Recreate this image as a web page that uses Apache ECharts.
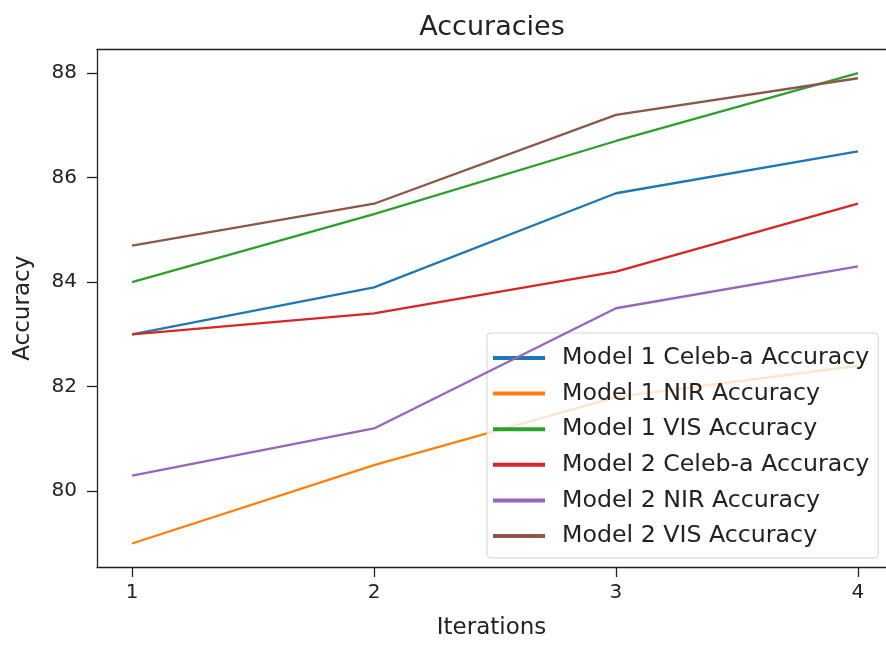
<!DOCTYPE html>
<html>
<head>
<meta charset="utf-8">
<script src="https://cdn.jsdelivr.net/npm/echarts@6/dist/echarts.min.js"></script>
<style>
  html, body { margin: 0; padding: 0; background: #ffffff; }
  #chart { width: 886px; height: 645px; }
</style>
</head>
<body>
<div id="chart"></div>
<script>
// Iteration numbers on the x axis
const iterations = [1, 2, 3, 4];

// Accuracy per iteration for each model / dataset
const model1Celeba = [83.0, 83.9, 85.7, 86.5];
const model1Nir    = [79.0, 80.5, 81.8, 82.4];
const model1Vis    = [84.0, 85.3, 86.7, 88.0];
const model2Celeba = [83.0, 83.4, 84.2, 85.5];
const model2Nir    = [80.3, 81.2, 83.5, 84.3];
const model2Vis    = [84.7, 85.5, 87.2, 87.9];

const seriesNames = [
  'Model 1 Celeb-a Accuracy',
  'Model 1 NIR Accuracy',
  'Model 1 VIS Accuracy',
  'Model 2 Celeb-a Accuracy',
  'Model 2 NIR Accuracy',
  'Model 2 VIS Accuracy'
];
const seriesValues = [model1Celeba, model1Nir, model1Vis, model2Celeba, model2Nir, model2Vis];

// Axis tick labels
const xTicks = [1, 2, 3, 4];
const yTicks = [80, 82, 84, 86, 88];

const palette = ['#1f77b4', '#ff7f0e', '#2ca02c', '#d62728', '#9467bd', '#8c564b'];
const ink = '#222222';
const font = 'DejaVu Sans';

const chart = echarts.init(document.getElementById('chart'), null, { renderer: 'canvas' });

const series = seriesNames.map((name, i) => ({
  name: name,
  type: 'line',
  showSymbol: false,
  symbol: 'none',
  data: iterations.map((x, k) => [x, seriesValues[i][k]]),
  lineStyle: { color: palette[i], width: 2.3 },
  itemStyle: { color: palette[i] },
  z: 2 + i
}));

// x range runs past the right edge of the canvas, so no right frame line is drawn
const xMin = 0.855;
const xMax = 4.116;

chart.setOption({
  animation: false,
  backgroundColor: '#ffffff',
  color: palette,
  title: {
    text: 'Accuracies',
    left: 487,
    top: 9,
    textAlign: 'center',
    textStyle: { fontFamily: font, fontSize: 27, fontWeight: 'normal', color: ink }
  },
  grid: { left: 97, right: 0, top: 49.5, bottom: 76, containLabel: false },
  legend: {
    orient: 'vertical',
    left: 487,
    top: 333,
    padding: [13, 9, 10, 6],
    itemGap: 11.6,
    itemWidth: 52,
    itemHeight: 4,
    backgroundColor: 'rgba(255,255,255,0.8)',
    borderColor: '#d4d4d4',
    borderWidth: 1,
    borderRadius: 4,
    data: seriesNames.map(n => ({ name: n, icon: 'rect' })),
    textStyle: { fontFamily: font, fontSize: 23.7, color: ink, padding: [0, 0, 0, 12] }
  },
  xAxis: [
    {
      type: 'value',
      min: xMin,
      max: xMax,
      name: 'Iterations',
      nameLocation: 'middle',
      nameGap: 50,
      nameTextStyle: { fontFamily: font, fontSize: 23, color: ink },
      axisLine: { show: true, onZero: false, lineStyle: { color: ink, width: 1.3 } },
      axisTick: { show: true, length: 10, customValues: xTicks, lineStyle: { color: ink, width: 1.3 } },
      axisLabel: { customValues: xTicks, margin: 16, fontFamily: font, fontSize: 20, color: ink },
      splitLine: { show: false }
    },
    {
      type: 'value',
      position: 'top',
      min: xMin,
      max: xMax,
      axisLine: { show: true, onZero: false, lineStyle: { color: ink, width: 1.3 } },
      axisTick: { show: false },
      axisLabel: { show: false },
      splitLine: { show: false }
    }
  ],
  yAxis: {
    type: 'value',
    min: 78.55,
    max: 88.45,
    name: 'Accuracy',
    nameLocation: 'middle',
    nameGap: 62,
    nameRotate: 90,
    nameTextStyle: { fontFamily: font, fontSize: 23, color: ink },
    axisLine: { show: true, onZero: false, lineStyle: { color: ink, width: 1.3 } },
    axisTick: { show: true, length: 10, customValues: yTicks, lineStyle: { color: ink, width: 1.3 } },
    axisLabel: { customValues: yTicks, margin: 20, fontFamily: font, fontSize: 20, color: ink },
    splitLine: { show: false }
  },
  series: series
});
</script>
</body>
</html>
